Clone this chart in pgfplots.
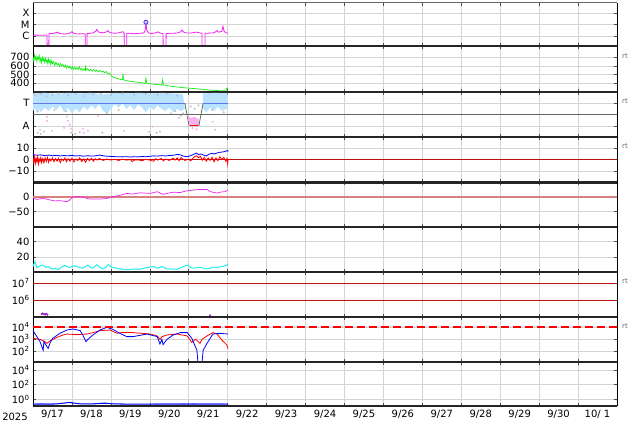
\documentclass[border=0pt]{standalone}
\usepackage{fontspec}
\setmainfont{DejaVu Sans}
\usepackage{pgfplots}
\pgfplotsset{compat=1.18}

\definecolor{xmag}{HTML}{EE22EE}
\definecolor{swgreen}{HTML}{11EE11}
\definecolor{tblue}{HTML}{B8E2FF}
\definecolor{apink}{HTML}{F7B0EE}
\definecolor{secblue}{HTML}{6677EE}
\definecolor{secgreen}{HTML}{557755}
\definecolor{dkred}{HTML}{BB1111}
\definecolor{salmon}{HTML}{D88080}
\definecolor{dcyan}{HTML}{22EEEE}
\definecolor{purp}{HTML}{9922CC}

\newcommand\tks{\fontsize{10}{12}\selectfont}
\newcommand\rts{\fontsize{7}{8}\selectfont}

\pgfplotsset{
  panel/.style={
    scale only axis, width=584pt,
    anchor=north west,
    xmin=0, xmax=15, xtick={0,...,15}, xticklabels={},
    xmajorgrids, ymajorgrids,
    grid style={black!17, line width=0.5pt},
    separate axis lines,
    x axis line style={line width=2.4pt, black!85},
    y axis line style={line width=0.6pt, black},
    major tick length=3pt,
    tick style={black!70, line width=0.5pt},
    tick label style={font=\tks},
    /pgf/number format/assume math mode=true,
  },
}

\begin{document}
\begin{tikzpicture}
\path[use as bounding box] (0,0) rectangle (634pt,-424pt);

% 1: X-ray flux (log10 W/m^2)
\begin{axis}[panel, at={(33pt,-2.5pt)}, height=43.5pt,
  x axis line style={line width=0.5pt, black!60},
  ymin=-6.88, ymax=-3.05, ytick={-6,-5,-4}, yticklabels={C,M,X}]
\addplot[xmag, line width=0.8pt] coordinates {
(0,-5.93) (0.1,-5.92) (0.2,-5.94) (0.3,-5.92) (0.36,-5.92) (0.365,-7.5) (0.405,-7.5) (0.41,-5.80)
(0.44,-5.76) (0.5,-5.80) (0.57,-5.72) (0.64,-5.66) (0.68,-5.78) (0.8,-5.82) (0.9,-5.80) (0.97,-5.7)
(1.0,-5.62) (1.05,-5.78) (1.15,-5.82) (1.28,-5.80) (1.34,-5.82) (1.345,-7.5) (1.385,-7.5) (1.39,-5.78)
(1.46,-5.76) (1.55,-5.72) (1.62,-5.55) (1.64,-5.42) (1.68,-5.65) (1.8,-5.72) (1.9,-5.62) (1.93,-5.53)
(1.97,-5.7) (2.1,-5.76) (2.2,-5.72) (2.31,-5.62) (2.34,-5.75) (2.345,-7.5) (2.405,-7.5) (2.41,-5.78)
(2.5,-5.76) (2.6,-5.80) (2.75,-5.76) (2.85,-5.72) (2.88,-5.5) (2.90,-4.85) (2.92,-5.45) (2.96,-5.72)
(3.05,-5.78) (3.15,-5.72) (3.21,-5.64) (3.26,-5.74) (3.34,-5.78) (3.345,-7.5) (3.415,-7.5) (3.42,-5.78)
(3.55,-5.76) (3.7,-5.74) (3.8,-5.62) (3.83,-5.47) (3.87,-5.66) (3.95,-5.74) (4.05,-5.74) (4.2,-5.66)
(4.3,-5.74) (4.34,-5.76) (4.345,-7.5) (4.415,-7.5) (4.42,-5.76) (4.55,-5.74) (4.65,-5.72) (4.73,-5.52)
(4.76,-5.66) (4.85,-5.6) (4.88,-5.15) (4.91,-5.6) (4.96,-5.72) (5.01,-5.74)};
\addplot[only marks, mark=o, mark size=2pt, blue!80, thick] coordinates {(2.90,-4.79)};
\end{axis}

% 2: solar wind speed
\begin{axis}[panel, at={(33pt,-46pt)}, height=45.7pt,
  ymin=303, ymax=830, ytick={400,500,600,700}]
\addplot[swgreen, line width=0.7pt] coordinates {
(0.00,700) (0.02,655) (0.04,725) (0.06,675) (0.08,710) (0.10,650) (0.12,700) (0.14,680) (0.16,720)
(0.18,655) (0.20,690) (0.22,640) (0.24,700) (0.26,660) (0.28,685) (0.30,640) (0.32,690) (0.34,650)
(0.36,670) (0.38,625) (0.40,680) (0.42,640) (0.44,665) (0.46,615) (0.48,660) (0.50,625) (0.53,650)
(0.56,605) (0.59,645) (0.62,610) (0.65,630) (0.68,595) (0.71,625) (0.74,600) (0.77,615) (0.80,585)
(0.83,610) (0.86,575) (0.89,600) (0.92,578) (0.95,595) (0.98,565) (1.01,590) (1.04,562) (1.07,585)
(1.10,560) (1.13,580) (1.16,558) (1.19,590) (1.22,555) (1.25,572) (1.28,548) (1.31,565) (1.34,550)
(1.35,605) (1.36,552) (1.40,570) (1.44,545) (1.48,562) (1.52,540) (1.56,558) (1.60,538) (1.64,552)
(1.68,532) (1.72,548) (1.76,528) (1.80,542) (1.84,522) (1.88,535) (1.92,512) (1.96,520) (2.00,495)
(2.03,480) (2.06,470) (2.10,465) (2.14,458) (2.18,455) (2.24,445) (2.30,440) (2.31,510) (2.33,440)
(2.40,430) (2.48,425) (2.56,420) (2.64,415) (2.72,410) (2.80,405) (2.88,400) (2.90,460) (2.92,402)
(3.00,395) (3.10,390) (3.20,385) (3.31,380) (3.33,440) (3.35,380) (3.45,372) (3.55,366) (3.65,360)
(3.75,355) (3.85,350) (3.95,346) (4.05,342) (4.15,338) (4.25,334) (4.35,330) (4.45,326) (4.55,322)
(4.65,318) (4.75,316) (4.85,314) (4.95,314) (4.98,345) (5.01,330)};
\end{axis}
\node[font=\rts, text=black!60] at (625pt,-56pt) {rt};

% 3: IMF sector (T / A)
\begin{axis}[panel, at={(33pt,-91.7pt)}, height=45pt,
  ymin=-1.95, ymax=2.0, ytick={-1,1}, yticklabels={A,T}]
\addplot[fill=tblue, draw=none] coordinates {
(0,1.85) (0.3,1.9) (0.6,1.8) (0.9,1.9) (1.2,1.85) (1.5,1.9) (1.8,1.75) (2.1,1.9) (2.4,1.85)
(2.7,1.9) (3.0,1.85) (3.3,1.9) (3.6,1.85) (3.85,1.8) (3.9,0.5)
(3.8,0.3) (3.7,0.5) (3.6,0.2) (3.5,0.6) (3.4,0.3) (3.3,0.5) (3.2,0.8) (3.1,0.4) (3.0,0.7)
(2.9,0.2) (2.8,0.6) (2.7,0.9) (2.6,0.4) (2.5,0.8) (2.4,0.5) (2.3,1.0) (2.2,0.6) (2.1,0.9)
(2.0,0.5) (1.9,0.1) (1.8,0.3) (1.7,0.9) (1.6,0.5) (1.5,0.8) (1.4,0.4) (1.3,0.7) (1.2,0.2)
(1.1,0.5) (1.0,0.1) (0.9,0.6) (0.8,0.2) (0.7,0.8) (0.6,0.4) (0.5,0.7) (0.4,0.3) (0.3,0.6)
(0.2,0.2) (0.15,0.5) (0.1,0.1) (0.05,0.6) (0,0.3)} -- cycle;
\addplot[fill=tblue, draw=none] coordinates {
(4.37,1.85) (4.7,1.9) (5.0,1.85) (5.0,0.4) (4.95,0.5) (4.85,0.3) (4.75,0.7) (4.65,0.3)
(4.55,0.6) (4.45,0.2) (4.37,0.5)} -- cycle;
\addplot[fill=apink, draw=none] coordinates {
(3.97,-0.1) (4.05,-0.3) (4.15,-0.2) (4.25,-0.4) (4.28,-0.9) (4.22,-1.1) (4.1,-1.0) (4.0,-0.8)} -- cycle;
\addplot[only marks, mark=*, mark size=0.8pt, black!25] coordinates {
(0.05,1.7) (0.2,1.8) (0.35,1.6) (0.5,1.75) (0.65,1.85) (0.9,1.7) (1.1,1.8) (1.3,1.6) (1.55,1.75)
(1.75,1.8) (2.0,1.7) (2.3,1.85) (2.6,1.7) (2.9,1.8) (3.2,1.7) (3.45,1.8) (3.7,1.65)
(0.12,0.3) (0.55,0.4) (0.85,0.3) (1.9,0.1) (2.2,0.4) (3.55,0.1) (3.65,0.3) (3.75,-0.3) (3.8,-0.1)
(3.86,0.1) (4.05,0.7) (4.15,0.5) (4.25,0.8) (4.6,0.4) (4.9,0.2)
(0.12,-1.6) (0.2,-1.7) (0.28,-1.5) (0.98,-1.6) (1.08,-1.7) (1.2,-1.55) (1.78,-1.6) (3.18,-1.6) (3.26,-1.5)};
\addplot[only marks, mark=*, mark size=0.8pt, apink] coordinates {
(0.18,-1.34) (0.36,-0.2) (0.36,-0.55) (0.49,-1.43) (0.80,-1.17) (0.87,-0.2) (0.90,-0.55) (0.95,-0.9)
(0.98,-1.25) (1.28,-1.25) (1.31,-1.6) (1.41,-1.43) (1.67,-0.11) (2.34,-1.43) (2.98,-1.52) (3.06,-1.08)
(3.98,-0.11) (4.0,-0.46) (4.03,-0.8) (4.1,-1.2) (4.2,-1.3) (4.62,-0.64) (4.68,-1.34)};
\addplot[black!60, line width=0.7pt] coordinates {(0,0) (15,0)};
\addplot[secblue, line width=0.9pt] coordinates {(0,1) (3.90,1)};
\addplot[secgreen, line width=0.8pt] coordinates {(3.90,1) (4.01,-1)};
\addplot[secgreen, line width=0.8pt] coordinates {(4.26,-1) (4.37,1)};
\addplot[secblue, line width=0.9pt] coordinates {(4.37,1) (5.0,1)};
\addplot[red, line width=1.3pt] coordinates {(4.02,-0.98) (4.25,-0.98)};
\end{axis}
\node[font=\rts, text=black!60] at (625pt,-101pt) {rt};

% 4: IMF Bt / Bz
\begin{axis}[panel, at={(33pt,-136.7pt)}, height=45.7pt,
  ymin=-20.4, ymax=20.4, ytick={-10,0,10}, yticklabels={−10,0,10}]
\addplot[dkred, line width=0.7pt] coordinates {(0,0) (15,0)};
\addplot[blue, line width=0.8pt] coordinates {
(0,4.5) (0.1,3.8) (0.2,4.2) (0.3,3.5) (0.4,4.0) (0.5,3.4) (0.6,3.8) (0.7,3.2) (0.8,3.6) (0.9,3.3)
(1.0,3.8) (1.1,3.2) (1.2,3.5) (1.3,3.0) (1.4,3.4) (1.5,3.1) (1.6,3.3) (1.7,4.0) (1.8,3.4) (1.9,3.0)
(2.0,2.8) (2.1,2.6) (2.2,2.5) (2.3,2.4) (2.4,2.6) (2.5,2.3) (2.6,2.5) (2.7,2.4) (2.8,2.7) (2.9,2.5)
(3.0,2.9) (3.1,3.3) (3.2,3.1) (3.3,3.5) (3.4,3.2) (3.5,3.6) (3.6,3.8) (3.7,4.5) (3.78,4.3) (3.85,3.2)
(3.95,2.5) (4.05,3.5) (4.15,5.0) (4.2,5.8) (4.25,4.5) (4.32,5.0) (4.38,4.0) (4.45,3.2) (4.52,4.8)
(4.6,5.6) (4.66,5.0) (4.72,5.8) (4.8,6.5) (4.88,6.8) (4.95,7.5) (5.0,8.2) (5.01,7.0)};
\addplot[red, line width=0.8pt] coordinates {
(0,1.5) (0.02,-2.5) (0.04,2.0) (0.06,-3.5) (0.08,1.0) (0.10,-2.0) (0.12,2.2) (0.14,-3.8) (0.16,0.5)
(0.18,-1.5) (0.20,1.8) (0.22,-2.8) (0.25,0.8) (0.28,-3.0) (0.31,1.5) (0.34,-1.8) (0.37,2.0) (0.40,-2.5)
(0.43,0.5) (0.46,-1.2) (0.50,1.5) (0.54,-2.0) (0.58,0.8) (0.62,-1.5) (0.66,1.2) (0.70,-2.8) (0.74,0.5)
(0.78,-1.0) (0.82,1.5) (0.86,-2.0) (0.90,0.8) (0.95,-1.5) (1.00,1.2) (1.05,-2.2) (1.10,0.6) (1.15,-1.0)
(1.20,1.5) (1.25,-1.8) (1.30,0.5) (1.35,-2.5) (1.40,1.0) (1.45,-1.0) (1.50,1.2) (1.55,-1.5) (1.60,0.8)
(1.65,-0.5) (1.70,1.0) (1.80,-0.8) (1.90,0.5) (2.00,-0.5) (2.10,0.2) (2.20,-0.8) (2.30,0.3) (2.40,-0.5)
(2.50,0.0) (2.55,-1.8) (2.60,-0.5) (2.70,-0.3) (2.80,-1.0) (2.90,0.2) (3.00,-0.5) (3.10,-1.5) (3.15,0.8)
(3.20,-0.5) (3.30,1.0) (3.35,-1.2) (3.40,0.5) (3.50,-0.8) (3.60,1.2) (3.65,-0.5) (3.70,1.5) (3.75,-1.0)
(3.80,1.8) (3.85,0.5) (3.90,-0.8) (4.00,0.5) (4.05,-1.2) (4.10,1.0) (4.15,2.5) (4.20,3.5) (4.25,1.5)
(4.30,3.0) (4.35,-0.5) (4.40,2.0) (4.45,-1.5) (4.50,1.5) (4.55,-0.8) (4.60,2.0) (4.65,-2.0) (4.70,1.5)
(4.75,-1.0) (4.80,2.5) (4.85,0.0) (4.90,2.0) (4.95,-1.5) (4.98,1.0) (5.00,-4.0) (5.01,0.5)};
\end{axis}
\node[font=\rts, text=black!60] at (625pt,-146pt) {rt};

% 5: Dst
\begin{axis}[panel, at={(33pt,-182.4pt)}, height=44.3pt,
  ymin=-100, ymax=47.7, ytick={-50,0}, yticklabels={−50,0}]
\addplot[salmon, line width=1.6pt] coordinates {(0,0) (15,0)};
\addplot[xmag, line width=0.7pt] coordinates {
(0,-5) (0.1,-9) (0.26,-5) (0.44,-11) (0.57,-14) (0.69,-13) (0.87,-16.6) (0.95,-10) (1.03,0)
(1.21,0) (1.46,-7.7) (1.72,-7.7) (1.90,-6) (2.05,0) (2.23,4.4) (2.41,11) (2.57,9) (2.75,13)
(3.01,11) (3.19,16.7) (3.34,8) (3.44,11) (3.60,15) (3.78,14) (3.96,20) (4.11,22) (4.29,24.4)
(4.47,24) (4.55,17) (4.73,12) (4.80,15) (4.93,17) (5.01,22)};
\end{axis}

% 6: density
\begin{axis}[panel, at={(33pt,-226.7pt)}, height=45pt,
  ymin=1.5, ymax=59, ytick={20,40}]
\addplot[dcyan, line width=1pt] coordinates {
(0,8) (0.05,14.4) (0.10,6.7) (0.18,9) (0.26,10) (0.33,7) (0.39,8) (0.45,6) (0.51,5) (0.58,6)
(0.64,4) (0.72,7) (0.82,9.6) (0.88,8) (0.95,7) (1.05,9) (1.13,8) (1.20,7) (1.28,6) (1.34,8)
(1.41,10) (1.48,7) (1.54,6) (1.64,10.5) (1.72,7) (1.80,5) (1.86,7) (1.93,10.5) (2.0,8) (2.05,7)
(2.15,6) (2.23,4.6) (2.31,5) (2.41,4) (2.5,4.5) (2.6,5) (2.75,4.6) (2.85,6) (3.01,7.5) (3.1,8)
(3.19,6) (3.31,8) (3.44,5) (3.55,5) (3.7,4.6) (3.78,6) (3.85,8) (3.98,10) (4.05,7) (4.11,6)
(4.29,7) (4.38,6) (4.47,5) (4.55,6) (4.62,7.5) (4.7,7) (4.85,8) (4.92,9) (4.98,10) (5.01,11)};
\end{axis}

% 7: electron flux (log10)
\begin{axis}[panel, at={(33pt,-271.7pt)}, height=45pt,
  ymin=5, ymax=7.69, ytick={6,7}, yticklabels={10\textsuperscript{6},10\textsuperscript{7}}]
\addplot[dkred, line width=0.8pt] coordinates {(0,7) (15,7)};
\addplot[dkred, line width=0.8pt] coordinates {(0,6) (15,6)};
\addplot[only marks, mark=*, mark size=0.8pt, purp] coordinates {
(0.22,5.15) (0.25,5.2) (0.28,5.17) (0.31,5.12) (0.34,5.18) (0.37,5.12) (4.55,5.08)};
\end{axis}
\node[font=\rts, text=black!60] at (625pt,-281pt) {rt};

% 8: proton flux (log10)
\begin{axis}[panel, at={(33pt,-316.7pt)}, height=45.5pt,
  ymin=1.04, ymax=4.9, ytick={2,3,4},
  yticklabels={10\textsuperscript{2},10\textsuperscript{3},10\textsuperscript{4}}]
\addplot[red, line width=0.8pt] coordinates {
(0,3.07) (0.18,2.98) (0.31,2.78) (0.36,2.64) (0.44,2.85) (0.62,3.15) (0.77,3.35) (0.87,3.43)
(1.13,3.38) (1.39,3.43) (1.54,3.55) (1.72,3.72) (1.98,3.77) (2.16,3.49) (2.31,3.57) (2.57,3.55)
(3.01,3.43) (3.19,3.27) (3.26,2.98) (3.31,3.2) (3.44,3.35) (3.70,3.43) (3.96,3.27) (4.08,2.72)
(4.18,3.0) (4.29,2.64) (4.34,2.98) (4.47,3.27) (4.62,3.55) (4.73,3.43) (4.85,2.92) (4.98,2.5) (5.01,2.21)};
\addplot[blue, line width=0.8pt] coordinates {
(0,3.72) (0.10,3.21) (0.18,2.78) (0.26,2.05) (0.28,2.78) (0.36,2.36) (0.39,2.21) (0.44,2.7)
(0.51,3.07) (0.69,3.49) (0.87,3.77) (1.03,3.86) (1.21,3.72) (1.28,3.35) (1.36,2.78) (1.41,2.98)
(1.54,3.35) (1.72,3.77) (1.90,4.0) (2.05,3.83) (2.23,3.49) (2.41,3.21) (2.57,3.21) (2.93,3.43)
(3.19,3.21) (3.26,2.58) (3.31,2.98) (3.34,2.53) (3.44,2.98) (3.60,3.35) (3.78,3.55) (3.96,3.55)
(4.08,3.07) (4.21,2.05) (4.24,0.9) (4.34,0.9) (4.37,2.05) (4.47,2.64) (4.62,3.43) (4.80,3.49) (5.01,3.43)};
\addplot[red, line width=1.3pt, dash pattern=on 8pt off 4pt] coordinates {(0,4.02) (15,4.02)};
\end{axis}
\node[font=\rts, text=black!60] at (625pt,-326pt) {rt};

% 9: (log10)
\begin{axis}[panel, at={(33pt,-362.2pt)}, height=43.5pt,
  ymin=-0.87, ymax=5.06, ytick={0,2,4},
  yticklabels={10\textsuperscript{0},10\textsuperscript{2},10\textsuperscript{4}},
  xticklabels={9/17,9/18,9/19,9/20,9/21,9/22,9/23,9/24,9/25,9/26,9/27,9/28,9/29,9/30,10/ 1,{}},
  xticklabel style={xshift=19.47pt, yshift=-1pt}]
\addplot[blue!70, line width=0.7pt] coordinates {
(0,-0.62) (0.3,-0.6) (0.6,-0.6) (0.8,-0.5) (0.9,-0.45) (1.0,-0.5) (1.2,-0.62) (1.5,-0.6)
(1.72,-0.55) (1.85,-0.5) (2.0,-0.58) (2.3,-0.62) (3.0,-0.62) (3.5,-0.6) (4.0,-0.62) (4.5,-0.6) (5.01,-0.62)};
\addplot[blue, line width=0.8pt] coordinates {
(0,-0.67) (0.2,-0.65) (0.4,-0.68) (0.6,-0.64) (0.82,-0.5) (0.95,-0.41) (1.05,-0.5) (1.25,-0.65)
(1.6,-0.62) (1.72,-0.55) (1.9,-0.55) (2.1,-0.64) (2.5,-0.67) (3.0,-0.66) (3.5,-0.67) (4.0,-0.65)
(4.5,-0.67) (5.01,-0.66)};
\end{axis}
\node[font=\tks, anchor=base] at (15pt,-420pt) {2025};

\end{tikzpicture}
\end{document}
